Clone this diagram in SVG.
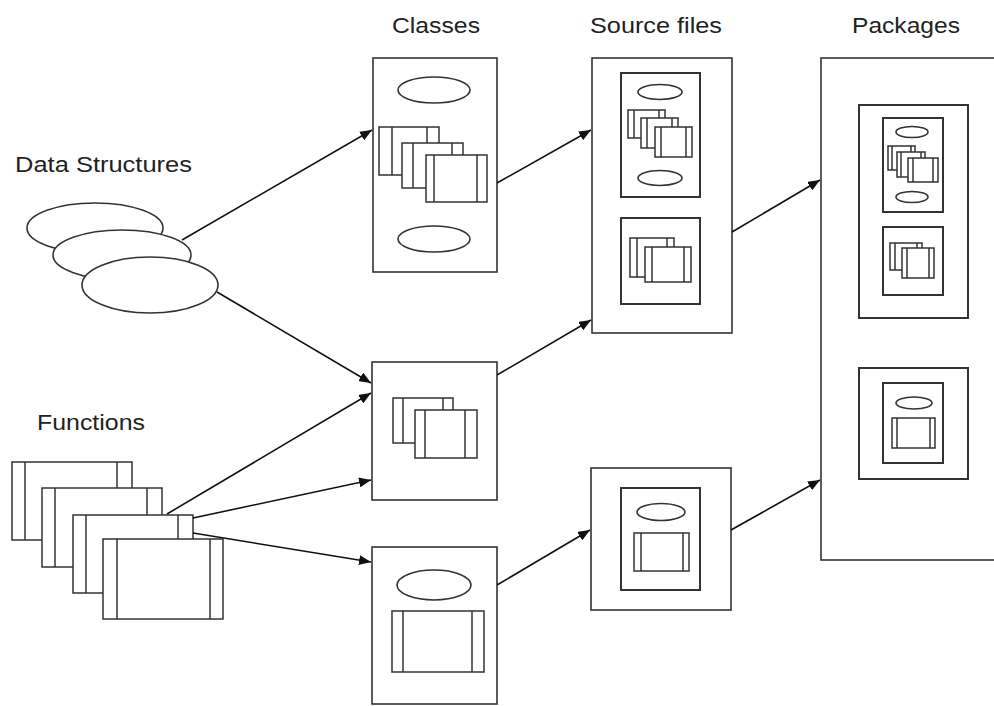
<svg xmlns="http://www.w3.org/2000/svg" width="994" height="706" viewBox="0 0 994 706">
<style>
.bg{fill:#ffffff}
.box{fill:#fff;stroke:#333;stroke-width:1.6}
.inner{fill:#fff;stroke:#333;stroke-width:2}
.ic{fill:#fff;stroke:#333;stroke-width:1.5}
.st{stroke:#333;stroke-width:1.5}
.el{fill:#fff;stroke:#333;stroke-width:1.6}
.lbl{font-family:"Liberation Sans",Arial,sans-serif;font-size:22px;fill:#222}
.conn{stroke:#111;stroke-width:1.6;fill:none;marker-end:url(#ah)}
</style>
<defs>
<marker id="ah" viewBox="0 0 12 10" refX="12" refY="5" markerWidth="12" markerHeight="10" markerUnits="userSpaceOnUse" orient="auto">
<path d="M0,0 L12,5 L0,10 Z" fill="#111"/>
</marker>
</defs>
<rect class="bg" x="0" y="0" width="994" height="706"/>

<g id="labels">
<text class="lbl" x="392" y="33" textLength="88" lengthAdjust="spacingAndGlyphs">Classes</text>
<text class="lbl" x="590" y="33" textLength="132" lengthAdjust="spacingAndGlyphs">Source files</text>
<text class="lbl" x="852" y="33" textLength="108" lengthAdjust="spacingAndGlyphs">Packages</text>
<text class="lbl" x="15" y="172" textLength="177" lengthAdjust="spacingAndGlyphs">Data Structures</text>
<text class="lbl" x="37" y="430" textLength="108" lengthAdjust="spacingAndGlyphs">Functions</text>
</g>

<g id="data-structures">
<ellipse class="el" cx="95" cy="228" rx="68" ry="25"/>
<ellipse class="el" cx="122" cy="255" rx="69" ry="25"/>
<ellipse class="el" cx="150" cy="285" rx="68" ry="28"/>
</g>

<g id="functions">
<rect class="ic" x="12" y="462" width="120" height="78"/><line class="st" x1="25" y1="462" x2="25" y2="540"/><line class="st" x1="117" y1="462" x2="117" y2="540"/>
<rect class="ic" x="42" y="488" width="120" height="79"/><line class="st" x1="55" y1="488" x2="55" y2="567"/><line class="st" x1="147" y1="488" x2="147" y2="567"/>
<rect class="ic" x="73" y="515" width="120" height="78"/><line class="st" x1="86" y1="515" x2="86" y2="593"/><line class="st" x1="178" y1="515" x2="178" y2="593"/>
<rect class="ic" x="103" y="539" width="120" height="80"/><line class="st" x1="117" y1="539" x2="117" y2="619"/><line class="st" x1="210" y1="539" x2="210" y2="619"/>
</g>

<g id="class-1">
<rect class="box" x="373" y="58" width="124" height="214"/>
<ellipse class="el" cx="434" cy="90" rx="36" ry="13"/>
<ellipse class="el" cx="434" cy="239" rx="36" ry="13"/>
<rect class="ic" x="379" y="127" width="60" height="48"/><line class="st" x1="392" y1="127" x2="392" y2="175"/><line class="st" x1="427" y1="127" x2="427" y2="175"/>
<rect class="ic" x="402" y="143" width="61" height="45"/><line class="st" x1="413" y1="143" x2="413" y2="188"/><line class="st" x1="452" y1="143" x2="452" y2="188"/>
<rect class="ic" x="426" y="155" width="61" height="47"/><line class="st" x1="434" y1="155" x2="434" y2="202"/><line class="st" x1="477" y1="155" x2="477" y2="202"/>
</g>

<g id="class-2">
<rect class="box" x="372" y="362" width="125" height="138"/>
<rect class="ic" x="393" y="398" width="60" height="45"/><line class="st" x1="403" y1="398" x2="403" y2="443"/><line class="st" x1="443" y1="398" x2="443" y2="443"/>
<rect class="ic" x="415" y="410" width="62" height="48"/><line class="st" x1="425" y1="410" x2="425" y2="458"/><line class="st" x1="465" y1="410" x2="465" y2="458"/>
</g>

<g id="class-3">
<rect class="box" x="372" y="547" width="125" height="157"/>
<ellipse class="el" cx="434" cy="585" rx="37" ry="15"/>
<rect class="ic" x="392" y="611" width="92" height="61"/><line class="st" x1="403" y1="611" x2="403" y2="672"/><line class="st" x1="472" y1="611" x2="472" y2="672"/>
</g>

<g id="source-1">
<rect class="box" x="592" y="58" width="140" height="275"/>
<rect class="inner" x="621" y="73" width="79" height="124"/>
<ellipse class="el" cx="660" cy="92" rx="22" ry="7.5"/>
<ellipse class="el" cx="660" cy="178" rx="22" ry="7.5"/>
<rect class="ic" x="628" y="110" width="37" height="28"/><line class="st" x1="634" y1="110" x2="634" y2="138"/><line class="st" x1="659" y1="110" x2="659" y2="138"/>
<rect class="ic" x="641" y="118" width="37" height="30"/><line class="st" x1="647" y1="118" x2="647" y2="148"/><line class="st" x1="672" y1="118" x2="672" y2="148"/>
<rect class="ic" x="655" y="127" width="37" height="30"/><line class="st" x1="661" y1="127" x2="661" y2="157"/><line class="st" x1="686" y1="127" x2="686" y2="157"/>
<rect class="inner" x="621" y="218" width="79" height="86"/>
<rect class="ic" x="630" y="238" width="44" height="39"/><line class="st" x1="637" y1="238" x2="637" y2="277"/><line class="st" x1="667" y1="238" x2="667" y2="277"/>
<rect class="ic" x="645" y="247" width="46" height="35"/><line class="st" x1="652" y1="247" x2="652" y2="282"/><line class="st" x1="684" y1="247" x2="684" y2="282"/>
</g>

<g id="source-2">
<rect class="box" x="591" y="468" width="140" height="142"/>
<rect class="inner" x="621" y="488" width="79" height="102"/>
<ellipse class="el" cx="661" cy="512" rx="24" ry="8.5"/>
<rect class="ic" x="634" y="533" width="55" height="38"/><line class="st" x1="641" y1="533" x2="641" y2="571"/><line class="st" x1="683" y1="533" x2="683" y2="571"/>
</g>

<g id="packages">
<rect class="box" x="821" y="58" width="190" height="502"/>
<rect class="inner" x="859" y="105" width="109" height="213"/>
<rect class="inner" x="883" y="118" width="60" height="94"/>
<ellipse class="el" cx="912" cy="132" rx="16" ry="5.5"/>
<ellipse class="el" cx="912" cy="197" rx="16" ry="5.5"/>
<rect class="ic" x="888" y="146" width="27" height="24"/><line class="st" x1="892" y1="146" x2="892" y2="170"/><line class="st" x1="911" y1="146" x2="911" y2="170"/>
<rect class="ic" x="897" y="152" width="28" height="25"/><line class="st" x1="901" y1="152" x2="901" y2="177"/><line class="st" x1="921" y1="152" x2="921" y2="177"/>
<rect class="ic" x="908" y="158" width="30" height="24"/><line class="st" x1="913" y1="158" x2="913" y2="182"/><line class="st" x1="933" y1="158" x2="933" y2="182"/>
<rect class="inner" x="883" y="227" width="60" height="68"/>
<rect class="ic" x="890" y="243" width="32" height="27"/><line class="st" x1="895" y1="243" x2="895" y2="270"/><line class="st" x1="917" y1="243" x2="917" y2="270"/>
<rect class="ic" x="902" y="248" width="32" height="30"/><line class="st" x1="907" y1="248" x2="907" y2="278"/><line class="st" x1="929" y1="248" x2="929" y2="278"/>
<rect class="inner" x="859" y="368" width="109" height="111"/>
<rect class="inner" x="883" y="383" width="60" height="80"/>
<ellipse class="el" cx="914" cy="403" rx="18" ry="6"/>
<rect class="ic" x="892" y="418" width="43" height="30"/><line class="st" x1="897" y1="418" x2="897" y2="448"/><line class="st" x1="930" y1="418" x2="930" y2="448"/>
</g>

<g id="connectors">
<line class="conn" x1="182" y1="240" x2="372" y2="130"/>
<line class="conn" x1="217" y1="292" x2="371" y2="383"/>
<line class="conn" x1="167" y1="514" x2="371" y2="393"/>
<line class="conn" x1="193" y1="518" x2="371" y2="480"/>
<line class="conn" x1="193" y1="533" x2="371" y2="562"/>
<line class="conn" x1="497" y1="183" x2="591" y2="130"/>
<line class="conn" x1="497" y1="375" x2="591" y2="320"/>
<line class="conn" x1="497" y1="585" x2="590" y2="530"/>
<line class="conn" x1="732" y1="232" x2="820" y2="180"/>
<line class="conn" x1="731" y1="530" x2="820" y2="480"/>
</g>
</svg>
